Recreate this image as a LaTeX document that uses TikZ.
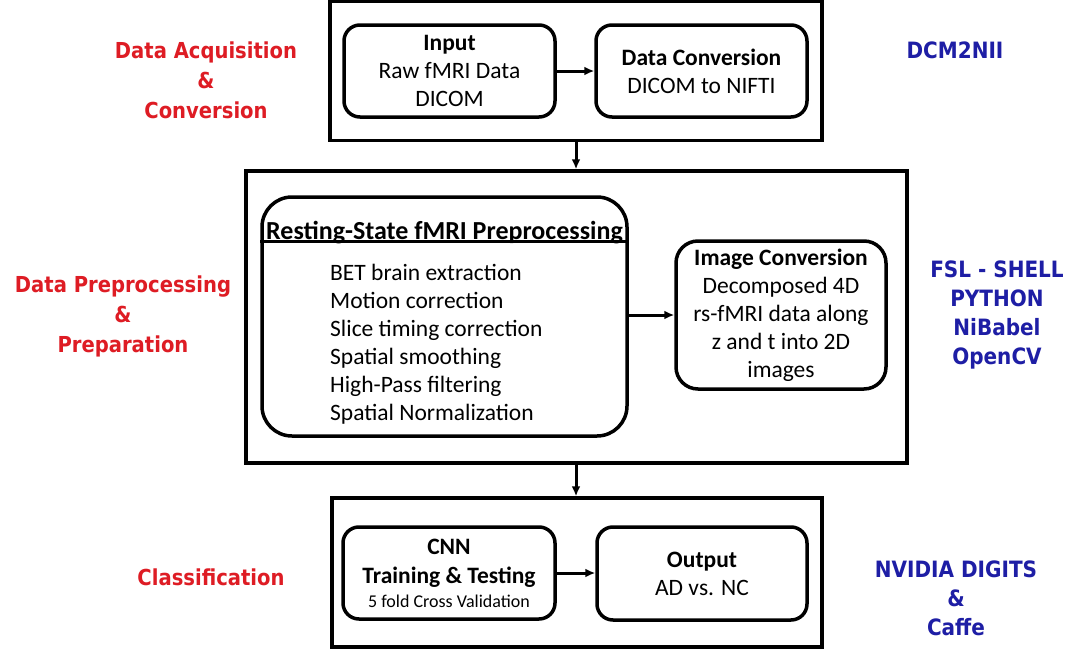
\documentclass[tikz,border=0pt]{standalone}
\usepackage{fontspec}
\setmainfont{Carlito}
\newfontfamily\sidefont{DejaVu Sans}[FakeStretch=0.89]
\usetikzlibrary{arrows.meta,calc}
\definecolor{labred}{RGB}{222,28,36}
\definecolor{labblue}{RGB}{30,30,165}
\tikzset{
  outerbox/.style={draw, line width=3.5pt, minimum width=#1},
  innerbox/.style={draw, line width=3.5pt, rounded corners=16pt, align=center, inner sep=0pt},
  flow/.style={line width=3pt, -{Latex[length=10pt,width=9pt]}},
  boxtext/.style={font=\fontsize{23.5}{28}\selectfont},
  redlab/.style={text=labred, align=center, font=\sidefont\bfseries\fontsize{22}{30}\selectfont},
  bluelab/.style={text=labblue, align=center, font=\sidefont\bfseries\fontsize{22.5}{29}\selectfont},
}
\begin{document}
\begin{tikzpicture}[x=1pt,y=-1pt]
\useasboundingbox (0,0) rectangle (1080,656);
\fill[white] (0,0) rectangle (1080,656);
% outer boxes
\node[outerbox=492pt, minimum height=139pt] (top) at (576,71) {};
\node[outerbox=661pt, minimum height=292pt] (mid) at (576.5,317) {};
\node[outerbox=490pt, minimum height=149pt] (bot) at (577,572.5) {};
% top row
\node[innerbox, minimum width=211pt, minimum height=92pt, boxtext] (input) at (449.5,71)
  {\textbf{Input}\\Raw fMRI Data\\DICOM};
\node[innerbox, minimum width=211pt, minimum height=92pt, boxtext] (conv) at (701.5,71)
  {\textbf{Data Conversion}\\DICOM to NIFTI};
% middle
\node[innerbox, rounded corners=30pt, minimum width=365pt, minimum height=239pt] (rs) at (444.5,316.5) {};
\coordinate (hl) at ($(rs.north west)+(0,46)$);
\coordinate (hr) at ($(rs.north east)+(0,46)$);
\draw[line width=3.5pt] (hl) -- (hr);
\node[font=\bfseries\fontsize{26}{28}\selectfont, inner sep=0pt] (rstitle) at ($(rs.north)+(0,37)$) {Resting-State fMRI Preprocessing};
\node[anchor=west, align=left, boxtext, inner sep=0pt] (rslist) at (330,344)
  {BET brain extraction\\Motion correction\\Slice timing correction\\Spatial smoothing\\High-Pass filtering\\Spatial Normalization};
\node[innerbox, rounded corners=22pt, minimum width=210pt, minimum height=148pt, boxtext] (img) at (781,315)
  {\textbf{Image Conversion}\\Decomposed 4D\\rs-fMRI data along\\z and t into 2D\\images};
% bottom row
\node[innerbox, minimum width=212pt, minimum height=92pt, font=\fontsize{23.5}{29}\selectfont] (cnn) at (449,573)
  {\textbf{CNN}\\\textbf{Training \& Testing}\\[-5pt]{\fontsize{18}{20}\selectfont 5 fold Cross Validation}};
\node[innerbox, minimum width=210pt, minimum height=93pt, boxtext] (out) at (702,573.5)
  {\textbf{Output}\\AD vs. NC};
% connectors
\draw[flow] (input.east) -- (conv.west);
\draw[flow] (rs.east |- img.west) -- (img.west);
\draw[flow] (cnn.east) -- (out.west |- cnn.east);
\draw[flow] (top.south) -- (mid.north -| top.south);
\draw[flow] (mid.south -| top.south) -- (bot.north -| top.south);
% side labels
\node[redlab] (l1) at (206,80) {Data Acquisition\\\&\\Conversion};
\node[redlab] (l2) at (123,316) {Data Preprocessing\\\&\\Preparation};
\node[redlab] (l3) at (211,577) {Classification};
\node[bluelab] (r1) at (955,50) {DCM2NII};
\node[bluelab] (r2) at (997,315) {FSL - SHELL\\PYTHON\\NiBabel\\OpenCV};
\node[bluelab] (r3) at (956,598) {NVIDIA DIGITS\\\&\\Caffe};
\end{tikzpicture}
\end{document}
